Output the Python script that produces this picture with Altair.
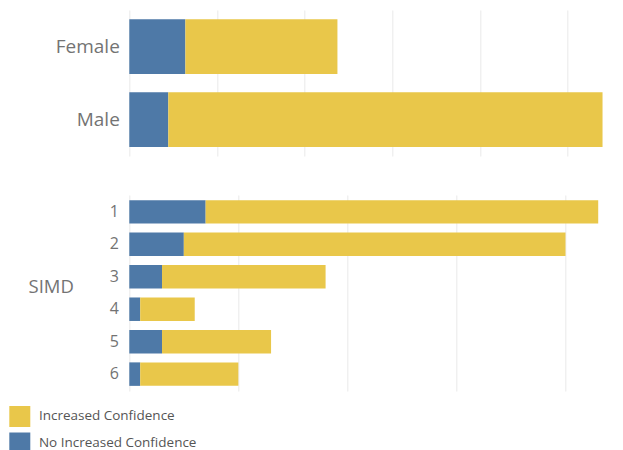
import altair as alt
import pandas as pd

# --- data ---
genders = ["Female", "Male"]
gender_no_increase = [12.8, 8.9]
gender_increase = [34.7, 99.1]

simd_groups = ["1", "2", "3", "4", "5", "6"]
simd_no_increase = [7, 5, 3, 1, 3, 1]
simd_increase = [36, 35, 15, 5, 10, 9]

statuses = ["Increased Confidence", "No Increased Confidence"]
status_colors = ["#E9C74A", "#4E79A7"]


def long_table(groups, no_inc, inc):
    rows = []
    for g, n, i in zip(groups, no_inc, inc):
        rows.append({"group": g, "status": statuses[1], "value": n, "ord": 0})
        rows.append({"group": g, "status": statuses[0], "value": i, "ord": 1})
    return pd.DataFrame(rows)


gdf = long_table(genders, gender_no_increase, gender_increase)
sdf = long_table(simd_groups, simd_no_increase, simd_increase)

FONT = "Open Sans"
LABEL_COLOR = "#737373"
GRID = "#e9e9e9"

legend = alt.Legend(
    title=None, orient="none", legendX=-120, legendY=396, padding=0,
    symbolType="square", symbolSize=441, symbolStrokeWidth=0, symbolOpacity=1,
    rowPadding=5.5, labelOffset=8.6, labelFont=FONT, labelFontSize=13.5,
    labelColor="#555555",
)
color = alt.Color("status:N", scale=alt.Scale(domain=statuses, range=status_colors),
                  legend=legend)

top = alt.Chart(gdf).mark_bar().encode(
    x=alt.X("value:Q", stack="zero",
            scale=alt.Scale(domain=[0, 110], nice=False),
            axis=alt.Axis(title=None, labels=False, ticks=False, domain=False,
                          values=[0, 20, 40, 60, 80, 100], gridColor=GRID)),
    y=alt.Y("group:N", sort=genders,
            scale=alt.Scale(paddingInner=0.25, paddingOuter=0.125),
            axis=alt.Axis(title=None, ticks=False, domain=False, labelFont=FONT,
                          labelFontSize=19, labelColor=LABEL_COLOR, labelPadding=10)),
    color=color,
    order=alt.Order("ord:Q"),
).properties(width=482, height=146)

bottom = alt.Chart(sdf).mark_bar().encode(
    x=alt.X("value:Q", stack="zero",
            scale=alt.Scale(domain=[0, 44.2], nice=False),
            axis=alt.Axis(title=None, labels=False, ticks=False, domain=False,
                          values=[0, 10, 20, 30, 40], gridColor=GRID)),
    y=alt.Y("group:N", sort=simd_groups,
            scale=alt.Scale(paddingInner=0.276, paddingOuter=0.158),
            axis=alt.Axis(title="SIMD", titleAngle=0, titleX=-101.3, titleY=91.7,
                          titleAlign="left", titleBaseline="middle", titleFont=FONT,
                          titleFontSize=18.5, titleFontWeight="normal",
                          titleColor=LABEL_COLOR, ticks=False, domain=False,
                          labelFont=FONT, labelFontSize=16, labelColor=LABEL_COLOR,
                          labelPadding=11)),
    color=color,
    order=alt.Order("ord:Q"),
).properties(width=482, height=196)

chart = alt.vconcat(top, bottom, spacing=39).resolve_scale(
    x="independent", color="shared"
).resolve_legend(color="shared").properties(
    padding={"left": 1.3, "top": 2, "right": 0, "bottom": 0}
).configure_view(stroke=None)

chart.save("out.html", embed_options={"renderer": "svg", "actions": False})
